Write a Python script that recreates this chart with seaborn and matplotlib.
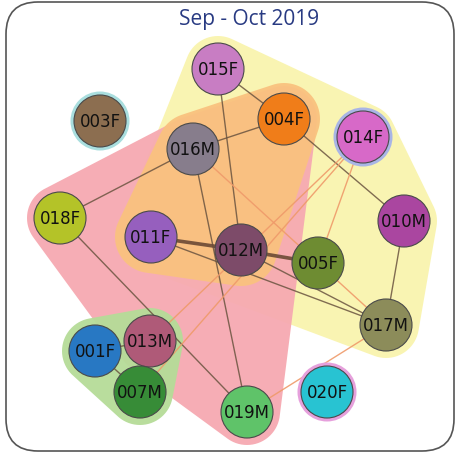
import numpy as np
import pandas as pd
import matplotlib
matplotlib.use("Agg")
import matplotlib.pyplot as plt
from matplotlib.patches import Polygon, Circle, FancyBboxPatch
import seaborn as sns

# ---- data ----
nodes = ["015F", "004F", "003F", "016M", "014F", "018F", "011F", "012M",
         "005F", "010M", "017M", "013M", "001F", "007M", "019M", "020F"]
node_x = [218, 284, 100, 193, 363, 60, 151, 241, 318, 404, 386, 150, 95, 140, 247, 327]
node_y = [70, 120, 122, 150, 138, 219, 238, 251, 264, 222, 326, 342, 352, 393, 413, 393]
node_colors = ["#c87dc3", "#f07d19", "#8c6e50", "#877d8c", "#d769c8", "#b4c328",
               "#965fbe", "#7d4b69", "#6e8c32", "#aa46a0", "#8c8c5a", "#af5a78",
               "#2878c3", "#378c37", "#5fc369", "#28c3d2"]

edges_dark = [("015F", "004F"), ("015F", "012M"), ("016M", "004F"), ("016M", "018F"),
              ("016M", "019M"), ("004F", "010M"), ("018F", "019M"), ("011F", "017M"),
              ("012M", "017M"), ("010M", "017M"), ("001F", "013M"), ("001F", "007M")]
edges_thick = [("011F", "012M"), ("012M", "005F")]
edges_light = [("016M", "005F"), ("013M", "014F"), ("007M", "014F"), ("005F", "014F"),
               ("005F", "017M"), ("019M", "017M")]

groups = {
    "yellow": ["015F", "004F", "014F", "010M", "017M", "005F", "012M", "011F"],
    "pink": ["018F", "016M", "004F", "012M", "013M", "019M"],
    "orange": ["016M", "004F", "011F", "012M"],
    "green": ["001F", "013M", "007M"],
}
group_pads = {"yellow": 33, "pink": 33, "orange": 36, "green": 33}
group_colors = {"yellow": "#f9f4ae", "pink": "#f6a9b1", "orange": "#fac27f", "green": "#b5dc98"}
halos = {"003F": "#a9dede", "014F": "#a9b5e6", "020F": "#e6a0dc"}

title = "Sep - Oct 2019"

# ---- drawing ----
sns.set_theme(style="white")
fig = plt.figure(figsize=(4.56, 4.56), dpi=100)
ax = fig.add_axes([0, 0, 1, 1])

pos = {n: (x, y) for n, x, y in zip(nodes, node_x, node_y)}
R = 26


def hull(points):
    pts = sorted(set(points))
    def cross(o, a, b):
        return (a[0]-o[0])*(b[1]-o[1]) - (a[1]-o[1])*(b[0]-o[0])
    lower, upper = [], []
    for p in pts:
        while len(lower) >= 2 and cross(lower[-2], lower[-1], p) <= 0:
            lower.pop()
        lower.append(p)
    for p in reversed(pts):
        while len(upper) >= 2 and cross(upper[-2], upper[-1], p) <= 0:
            upper.pop()
        upper.append(p)
    return lower[:-1] + upper[:-1]


ang = np.linspace(0, 2*np.pi, 72, endpoint=False)
for g in ["yellow", "pink", "orange", "green"]:
    pad = group_pads[g]
    pts = []
    for n in groups[g]:
        cx, cy = pos[n]
        for a in ang:
            pts.append((round(cx + pad*np.cos(a), 3), round(cy + pad*np.sin(a), 3)))
    h = hull(pts)
    ax.add_patch(Polygon(h, closed=True, facecolor=group_colors[g], edgecolor="none",
                         alpha=0.95, zorder=0))

for n, c in halos.items():
    ax.add_patch(Circle(pos[n], R + 3.5, facecolor=c, edgecolor="none", zorder=1.5))

for a, b in edges_dark:
    ax.plot([pos[a][0], pos[b][0]], [pos[a][1], pos[b][1]], color="#6b5440",
            lw=1.0, alpha=0.85, zorder=1)
for a, b in edges_thick:
    ax.plot([pos[a][0], pos[b][0]], [pos[a][1], pos[b][1]], color="#6b4a35",
            lw=2.6, alpha=0.9, zorder=1)
for a, b in edges_light:
    ax.plot([pos[a][0], pos[b][0]], [pos[a][1], pos[b][1]], color="#ef9a6a",
            lw=1.0, alpha=0.9, zorder=1)

df = pd.DataFrame({"node": nodes, "x": node_x, "y": node_y})
sz = (2 * R * 72 / 100) ** 2
sns.scatterplot(data=df, x="x", y="y", hue="node", palette=dict(zip(nodes, node_colors)),
                s=sz, edgecolor="#4a4a4a", linewidth=0.8, legend=False, ax=ax, zorder=2)
ax.set_xlim(0, 456)
ax.set_ylim(456, 0)
ax.set_aspect("equal")
ax.axis("off")

for n in nodes:
    ax.text(pos[n][0], pos[n][1], n, ha="center", va="center", fontsize=12,
            color="#111111", family="DejaVu Sans", zorder=3)

ax.add_patch(FancyBboxPatch((6, 3), 448, 449, boxstyle="round,pad=0,rounding_size=32",
                            facecolor="none", edgecolor="#555555", lw=1.2, zorder=4))

ax.text(249, 19, title, ha="center", va="center", fontsize=15, color="#283a82",
        family="Open Sans", zorder=5)

fig.savefig("out.png", dpi=100)
